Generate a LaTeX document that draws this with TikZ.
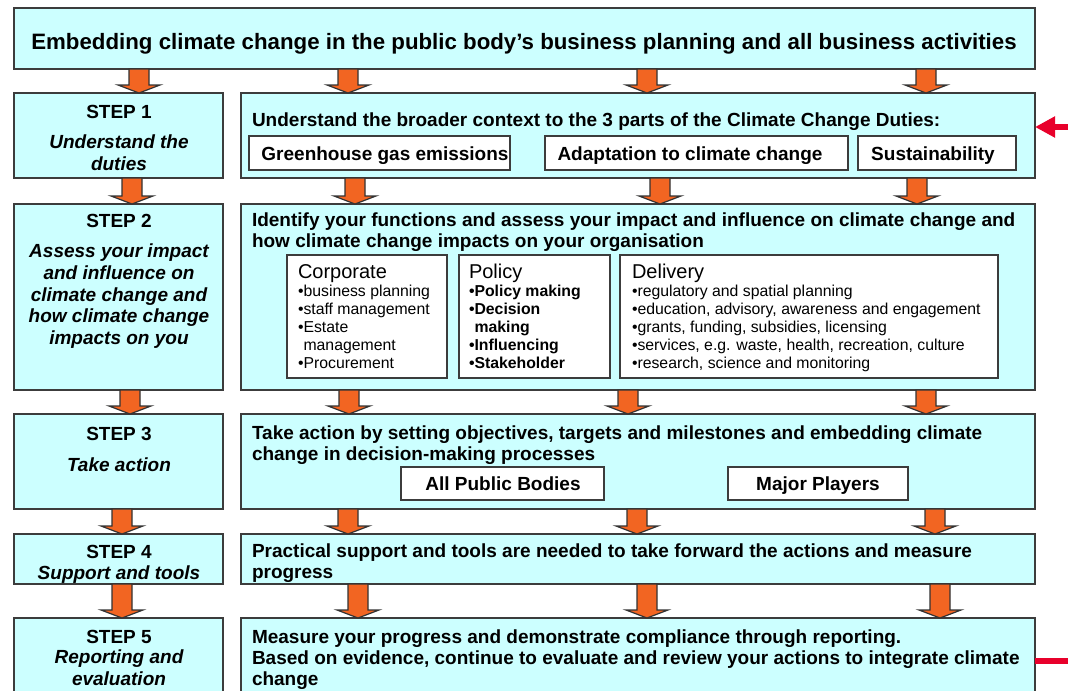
\documentclass[tikz,border=0pt]{standalone}
\usepackage{fontspec}
\setmainfont{Liberation Sans}
\usetikzlibrary{arrows.meta,calc,fit,positioning}

\definecolor{panelcyan}{HTML}{CCFFFF}
\definecolor{blockorange}{HTML}{F26522}
\definecolor{rimgrey}{HTML}{3C3C3C}
\definecolor{loopred}{HTML}{E8002B}

% fat orange arrow at x=#1 from the bottom of #2 to the top of #3
\newcommand{\stepdown}[3]{%
  \path[blockarrow] let \p1=(#2.south), \p2=(#3.north) in
    ({#1-10},\y1) -- ({#1+10},\y1) -- ({#1+10},{\y2+6pt}) -- ({#1+21},{\y2+6pt})
    -- (#1,\y2) -- ({#1-21},{\y2+6pt}) -- ({#1-10},{\y2+6pt}) -- cycle;}

\begin{document}
\begin{tikzpicture}[x=0.75pt,y=-0.75pt,
  every node/.style={inner sep=0pt,outer sep=0pt},
  panel/.style={draw=rimgrey,line width=1.1pt,fill=panelcyan},
  partbox/.style={draw=rimgrey,line width=1pt,fill=white},
  partlabel/.style={font=\fontsize{14.25pt}{16pt}\selectfont\bfseries,anchor=base},
  listbox/.style={draw=rimgrey,line width=1pt,fill=white},
  blockarrow/.style={draw=black!80,line width=0.9pt,fill=blockorange},
  loopback/.style={draw=loopred,line width=5pt}]
  \tikzstyle{headline}=[font=\fontsize{16.7pt}{18pt}\selectfont\bfseries,anchor=base]
  \tikzstyle{steptitle}=[font=\fontsize{14.25pt}{16pt}\selectfont\bfseries,anchor=base]
  \tikzstyle{stepnote}=[font=\fontsize{14.25pt}{16.3pt}\selectfont\bfseries\itshape,align=center]
  \tikzstyle{duty}=[font=\fontsize{14.25pt}{15.5pt}\selectfont\bfseries,align=left,anchor=north west]
  \tikzstyle{listhead}=[font=\fontsize{15pt}{16pt}\selectfont,anchor=base west]
  \tikzstyle{listitems}=[font=\fontsize{11.85pt}{13.5pt}\selectfont,align=left,anchor=north west]

  \path[use as bounding box,clip] (0,0) rectangle (1068,690);

  % banner
  \node[panel,fit={(14,8)(1035,69)}] (top) {};
  \node[headline] (toptext) at (524,49) {Embedding climate change in the public body’s business planning and all business activities};

  % step column
  \node[panel,fit={(14,93)(223,178)}] (step1) {};
  \node[panel,fit={(14,204)(223,390)}] (step2) {};
  \node[panel,fit={(14,414)(223,509)}] (step3) {};
  \node[panel,fit={(14,534)(223,584)}] (step4) {};
  \node[panel,fit={(14,618)(223,730)}] (step5) {};

  \node[steptitle] (st1) at (119,118) {STEP 1};
  \node[stepnote,anchor=north] (sn1) at (119,135) {Understand the\\duties};
  \node[steptitle] (st2) at (119,227) {STEP 2};
  \node[stepnote,anchor=north] (sn2) at (119,244) {Assess your impact\\and influence on\\climate change and\\how climate change\\impacts on you};
  \node[steptitle] (st3) at (119,440) {STEP 3};
  \node[stepnote,anchor=base] (sn3) at (119,471) {Take action};
  \node[steptitle] (st4) at (119,558) {STEP 4};
  \node[stepnote,anchor=base] (sn4) at (119,579) {Support and tools};
  \node[steptitle] (st5) at (119,643) {STEP 5};
  \node[stepnote,anchor=north] (sn5) at (119,650) {Reporting and\\evaluation};

  % duty column
  \node[panel,fit={(241,93)(1035,178)}] (duty1) {};
  \node[panel,fit={(241,204)(1035,390)}] (duty2) {};
  \node[panel,fit={(241,414)(1035,509)}] (duty3) {};
  \node[panel,fit={(241,534)(1035,584)}] (duty4) {};
  \node[panel,fit={(241,618)(1035,730)}] (duty5) {};

  \node[duty,anchor=base west] (d1) at (252,126) {Understand the broader context to the 3 parts of the Climate Change Duties:};
  \node[partbox,fit={(249,136)(510,170)}] (ghg) {};
  \node[partbox,fit={(545,136)(848,170)}] (adapt) {};
  \node[partbox,fit={(858,136)(1016,170)}] (sust) {};
  \node[partlabel] (ghgtext) at (385,160) {Greenhouse gas emissions};
  \node[partlabel] (adapttext) at (690,160) {Adaptation to climate change};
  \node[partlabel] (susttext) at (933,160) {Sustainability};

  \node[duty] (d2) at (252,213) {Identify your functions and assess your impact and influence on climate change and\\how climate change impacts on your organisation};
  \node[listbox,fit={(287,255)(447,378)}] (corp) {};
  \node[listbox,fit={(459,255)(610,378)}] (policy) {};
  \node[listbox,fit={(620,255)(998,378)}] (deliv) {};
  \node[listhead] (corphead) at (298,278) {Corporate};
  \node[listitems] (corpitems) at (298,285) {•business planning\\•staff management\\•Estate\\\hphantom{•}management\\•Procurement};
  \node[listhead] (polhead) at (469,278) {Policy};
  \node[listitems,font=\fontsize{11.85pt}{13.5pt}\selectfont\bfseries] (politems) at (469,285) {•Policy making\\•Decision\\\hphantom{•}making\\•Influencing\\•Stakeholder};
  \node[listhead] (delhead) at (632,278) {Delivery};
  \node[listitems] (delitems) at (632,285) {•regulatory and spatial planning\\•education, advisory, awareness and engagement\\•grants, funding, subsidies, licensing\\•services, e.g. waste, health, recreation, culture\\•research, science and monitoring};

  \node[duty] (d3) at (252,426) {Take action by setting objectives, targets and milestones and embedding climate\\change in decision-making processes};
  \node[partbox,fit={(401,467)(604,500)}] (allpb) {};
  \node[partbox,fit={(728,467)(908,500)}] (major) {};
  \node[partlabel] (allpbtext) at (503,490) {All Public Bodies};
  \node[partlabel] (majortext) at (818,490) {Major Players};

  \node[duty] (d4) at (252,544) {Practical support and tools are needed to take forward the actions and measure\\progress};

  \node[duty] (d5) at (252,630) {Measure your progress and demonstrate compliance through reporting.\\Based on evidence, continue to evaluate and review your actions to integrate climate\\change};

  % arrows between rows
  \stepdown{139}{top}{step1}
  \foreach \ax in {348,647,926} {\stepdown{\ax}{top}{duty1}}
  \stepdown{132}{step1}{step2}
  \foreach \ax in {355,660,917} {\stepdown{\ax}{duty1}{duty2}}
  \stepdown{130}{step2}{step3}
  \foreach \ax in {349,628,926} {\stepdown{\ax}{duty2}{duty3}}
  \stepdown{122}{step3}{step4}
  \foreach \ax in {348,637,935} {\stepdown{\ax}{duty3}{duty4}}
  \stepdown{122}{step4}{step5}
  \foreach \ax in {358,647,940} {\stepdown{\ax}{duty4}{duty5}}

  % red feedback ends
  \coordinate (backin) at (1068,127);
  \draw[loopback,-{Triangle[length=15pt,width=15pt]}] (backin) -- (duty1.east |- backin);
  \coordinate (backout) at (1068,661);
  \draw[loopback] (duty5.east |- backout) -- (backout);
\end{tikzpicture}
\end{document}
